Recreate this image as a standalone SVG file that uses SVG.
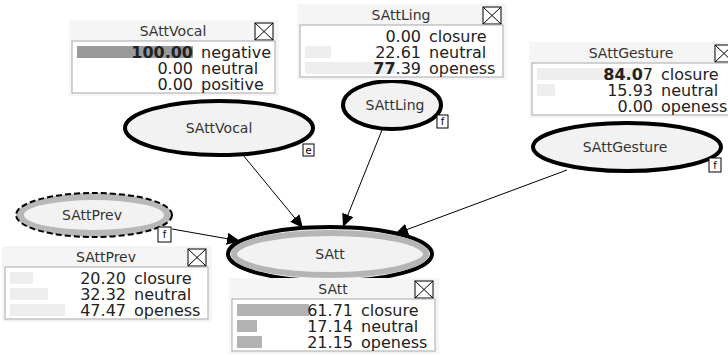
<svg xmlns="http://www.w3.org/2000/svg" width="728" height="355" viewBox="0 0 728 355">
<style>
.wbg{fill:#f5f5f5;stroke:none}
.panel{fill:#ffffff;stroke:#a8a8a8;stroke-width:1}
.ttl{font-family:"DejaVu Sans",sans-serif;font-size:14px;fill:#333;text-anchor:middle}
.num{font-family:"DejaVu Sans",sans-serif;font-size:16px;fill:#222;text-anchor:end}
.lbl{font-family:"DejaVu Sans",sans-serif;font-size:16px;fill:#222}
.cbox{fill:#fff;stroke:#000;stroke-width:1}
.bar-l{fill:#eeeeee}
.bar-m{fill:#b3b3b3}
.bar-d{fill:#9a9a9a}
.node{fill:#f2f2f2;stroke:#000;stroke-width:4}
.ring{fill:#f2f2f2;stroke:#b5b5b5;stroke-width:6}
.nlbl{font-family:"DejaVu Sans",sans-serif;font-size:14px;fill:#333;text-anchor:middle}
.badge{fill:#fff;stroke:#000;stroke-width:1}
.btxt{font-family:"DejaVu Sans",sans-serif;font-size:10px;fill:#000;text-anchor:middle}
.edge{stroke:#000;stroke-width:1;fill:none;marker-end:url(#arr)}
</style>
<defs>
<marker id="arr" markerUnits="userSpaceOnUse" markerWidth="14" markerHeight="12" refX="13" refY="6" orient="auto">
<path d="M0,0 L13,6 L0,12 Z" fill="#000"/>
</marker>
<g id="xbox"><rect class="cbox" x="0" y="0" width="18" height="17"/><path d="M0,0 L18,17 M18,0 L0,17" stroke="#000" stroke-width="1"/></g>
</defs>
<rect width="728" height="355" fill="#fff"/>

<g id="connectors">
<path class="edge" d="M172,229 L240,241"/>
<path class="edge" d="M243,155 L303,228"/>
<path class="edge" d="M382,130 L343,227"/>
<path class="edge" d="M567,170 L395,234"/>
</g>

<g id="node-SAttVocal">
<ellipse class="node" cx="219" cy="128" rx="94" ry="27"/>
<text class="nlbl" x="219" y="133">SAttVocal</text>
<rect class="badge" x="303" y="144" width="11" height="12"/>
<text class="btxt" x="308.5" y="154">e</text>
</g>

<g id="node-SAttLing">
<ellipse class="node" cx="392" cy="105" rx="49" ry="24"/>
<text class="nlbl" x="395" y="110">SAttLing</text>
<rect class="badge" x="437" y="115" width="11" height="13"/>
<text class="btxt" x="442.5" y="125">f</text>
</g>

<g id="node-SAttGesture">
<ellipse class="node" cx="627" cy="147" rx="94" ry="24"/>
<text class="nlbl" x="625" y="152">SAttGesture</text>
<rect class="badge" x="709" y="158" width="12" height="14"/>
<text class="btxt" x="715" y="169">f</text>
</g>

<g id="node-SAttPrev">
<ellipse cx="94" cy="215" rx="78" ry="22" fill="#b8b8b8" stroke="#000" stroke-width="2" stroke-dasharray="6 3"/>
<ellipse cx="94" cy="215" rx="70" ry="15" fill="#f2f2f2"/>
<text class="nlbl" x="92" y="220">SAttPrev</text>
<rect class="badge" x="158" y="227" width="13" height="15"/>
<text class="btxt" x="164.5" y="238">f</text>
</g>

<g id="node-SAtt">
<ellipse class="node" cx="330" cy="254" rx="102" ry="27"/>
<ellipse class="ring" cx="330" cy="254" rx="96" ry="21"/>
<text class="nlbl" x="330" y="259">SAtt</text>
</g>

<g id="table-SAttVocal" transform="translate(72,41)">
<rect class="wbg" x="-3" y="-21" width="210" height="76"/>
<text class="ttl" x="101" y="-5">SAttVocal</text>
<use href="#xbox" x="183" y="-18"/>
<rect class="panel" x="0" y="0" width="203" height="52"/>
<rect class="bar-d" x="5" y="5" width="116" height="12"/>
<text class="num" x="121" y="17" font-weight="bold">100.00</text><text class="lbl" x="129" y="17">negative</text>
<text class="num" x="121" y="33">0.00</text><text class="lbl" x="129" y="33">neutral</text>
<text class="num" x="121" y="49">0.00</text><text class="lbl" x="129" y="49">positive</text>
</g>

<g id="table-SAttLing" transform="translate(300,25)">
<rect class="wbg" x="-3" y="-21" width="210" height="76"/>
<text class="ttl" x="101" y="-5">SAttLing</text>
<use href="#xbox" x="183" y="-18"/>
<rect class="panel" x="0" y="0" width="203" height="52"/>
<rect class="bar-l" x="5" y="21" width="26" height="12"/>
<rect class="bar-l" x="5" y="37" width="90" height="12"/>
<text class="num" x="121" y="17">0.00</text><text class="lbl" x="129" y="17">closure</text>
<text class="num" x="121" y="33">22.61</text><text class="lbl" x="129" y="33">neutral</text>
<text class="num" x="121" y="49"><tspan font-weight="bold">77</tspan>.39</text><text class="lbl" x="129" y="49">openess</text>
</g>

<g id="table-SAttGesture" transform="translate(532,63)">
<rect class="wbg" x="-3" y="-21" width="210" height="76"/>
<text class="ttl" x="99" y="-5">SAttGesture</text>
<use href="#xbox" x="183" y="-18"/>
<rect class="panel" x="0" y="0" width="203" height="52"/>
<rect class="bar-l" x="5" y="5" width="97" height="12"/>
<rect class="bar-l" x="5" y="21" width="18" height="12"/>
<text class="num" x="121" y="17"><tspan font-weight="bold">84.0</tspan>7</text><text class="lbl" x="129" y="17">closure</text>
<text class="num" x="121" y="33">15.93</text><text class="lbl" x="129" y="33">neutral</text>
<text class="num" x="121" y="49">0.00</text><text class="lbl" x="129" y="49">openess</text>
</g>

<g id="table-SAttPrev" transform="translate(5,267)">
<rect class="wbg" x="-3" y="-21" width="210" height="76"/>
<text class="ttl" x="101" y="-5">SAttPrev</text>
<use href="#xbox" x="183" y="-18"/>
<rect class="panel" x="0" y="0" width="203" height="52"/>
<rect class="bar-l" x="5" y="5" width="23" height="12"/>
<rect class="bar-l" x="5" y="21" width="38" height="12"/>
<rect class="bar-l" x="5" y="37" width="55" height="12"/>
<text class="num" x="121" y="17">20.20</text><text class="lbl" x="129" y="17">closure</text>
<text class="num" x="121" y="33">32.32</text><text class="lbl" x="129" y="33">neutral</text>
<text class="num" x="121" y="49">47.47</text><text class="lbl" x="129" y="49">openess</text>
</g>

<g id="table-SAtt" transform="translate(232,299)">
<rect class="wbg" x="-3" y="-21" width="210" height="76"/>
<text class="ttl" x="101" y="-5">SAtt</text>
<use href="#xbox" x="183" y="-18"/>
<rect class="panel" x="0" y="0" width="203" height="52"/>
<rect class="bar-m" x="5" y="5" width="72" height="12"/>
<rect class="bar-m" x="5" y="21" width="20" height="12"/>
<rect class="bar-m" x="5" y="37" width="25" height="12"/>
<text class="num" x="121" y="17">61.71</text><text class="lbl" x="129" y="17">closure</text>
<text class="num" x="121" y="33">17.14</text><text class="lbl" x="129" y="33">neutral</text>
<text class="num" x="121" y="49">21.15</text><text class="lbl" x="129" y="49">openess</text>
</g>
</svg>
